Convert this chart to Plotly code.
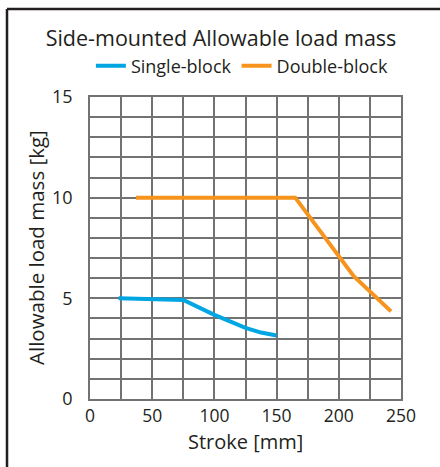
import plotly.graph_objects as go

# Data
single_x = [23, 75, 100, 125, 137.5, 150]
single_y = [5.0, 4.92, 4.18, 3.53, 3.3, 3.15]
double_x = [37, 165, 212, 242]
double_y = [10.0, 10.0, 6.1, 4.35]

x_ticks = [0, 50, 100, 150, 200, 250]
y_ticks = [0, 5, 10, 15]

FONT = "Open Sans"
TXT = "#231f20"
GRID = "#727272"

fig = go.Figure()
fig.add_trace(go.Scatter(x=single_x, y=single_y, mode="lines", name="Single-block",
                         line=dict(color="#00a6e2", width=4)))
fig.add_trace(go.Scatter(x=double_x, y=double_y, mode="lines", name="Double-block",
                         line=dict(color="#f7941d", width=4)))

L, R, T, B = 90, 39, 97, 68
W, H = 440, 467
pw, ph = W - L - R, H - T - B

fig.update_layout(
    width=W, height=H,
    margin=dict(l=L, r=R, t=T, b=B, autoexpand=False),
    paper_bgcolor="white", plot_bgcolor="white",
    font=dict(family=FONT, color=TXT, size=18),
    title=dict(text="Side-mounted Allowable load mass", x=221 / W, xanchor="center",
               y=1 - 38 / H, yanchor="middle", font=dict(size=21.5, color=TXT)),
    showlegend=True,
    legend=dict(orientation="h", x=0.49, xanchor="center", y=1 - 66 / H, yanchor="middle",
                yref="container", font=dict(size=18, color=TXT), itemwidth=30,
                bgcolor="rgba(0,0,0,0)", traceorder="normal"),
    xaxis=dict(range=[0, 250], tickvals=x_ticks, showgrid=True, gridcolor=GRID, gridwidth=1.6,
               minor=dict(dtick=25, showgrid=True, gridcolor=GRID, gridwidth=1.6),
               showline=True, linecolor=GRID, linewidth=1.6, mirror=True, zeroline=False,
               ticks="", ticklabelstandoff=0, tickfont=dict(size=17.5)),
    yaxis=dict(range=[0, 15], tickvals=y_ticks, showgrid=True, gridcolor=GRID, gridwidth=1.6,
               minor=dict(dtick=1, showgrid=True, gridcolor=GRID, gridwidth=1.6),
               showline=True, linecolor=GRID, linewidth=1.6, mirror=True, zeroline=False,
               ticks="", ticklabelstandoff=12, tickfont=dict(size=18)),
)

# axis titles
fig.add_annotation(text="Stroke [mm]", xref="paper", yref="paper", x=0.5,
                   y=(H - B - 441) / ph, xanchor="center", yanchor="middle",
                   showarrow=False, font=dict(size=20, color=TXT))
fig.add_annotation(text="Allowable load mass [kg]", xref="paper", yref="paper",
                   x=(36 - L) / pw, y=0.5, xanchor="center", yanchor="middle",
                   textangle=-90, showarrow=False, font=dict(size=20.5, color=TXT))

# outer frame (left and top edges)
fx = (7 - L) / pw
fy = (H - B - 9) / ph
fig.add_shape(type="line", xref="paper", yref="paper", x0=fx, x1=fx, y0=-B / ph, y1=fy,
              line=dict(color="#231f20", width=2.5))
fig.add_shape(type="line", xref="paper", yref="paper", x0=fx, x1=1 + R / pw, y0=fy, y1=fy,
              line=dict(color="#231f20", width=2.5))

fig.write_html("out.html", config={"displayModeBar": False},
               post_script="document.body.style.margin='0';document.body.style.overflow='hidden';")
